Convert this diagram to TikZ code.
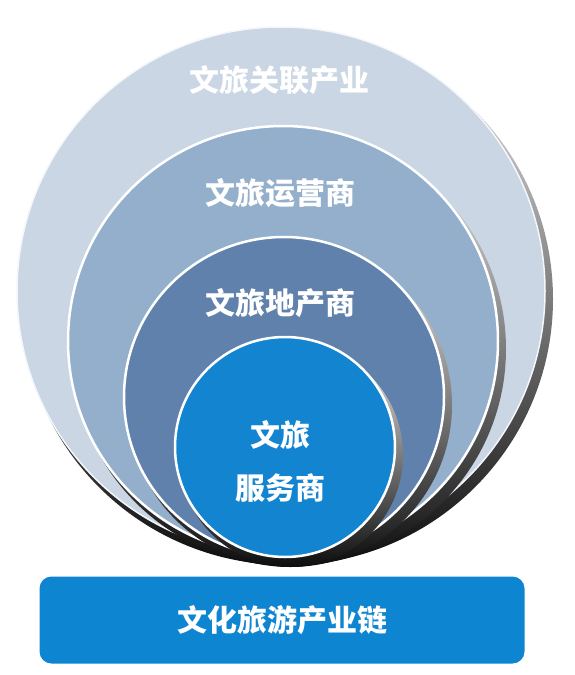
\documentclass[tikz,border=0pt]{standalone}
\usepackage{fontspec}
\newfontfamily\cjk{Noto Sans CJK SC}[BoldFont={Noto Sans CJK SC Black}]
\usepackage{xcolor}

\definecolor{ringA}{HTML}{CAD6E4}
\definecolor{ringB}{HTML}{94AFCB}
\definecolor{ringC}{HTML}{5F81AC}
\definecolor{ringD}{HTML}{1384CF}
\definecolor{chainblue}{HTML}{0E85D0}

\tikzset{
  ring/.style={circle,draw=white,line width=2.5pt,inner sep=0pt},
  ringshade/.style={circle,inner sep=0pt,top color=gray!15,bottom color=black!95},
  ringtext/.style={text=white,font=\cjk\bfseries\fontsize{30}{34}\selectfont}
}

\begin{document}
\begin{tikzpicture}[x=1pt,y=-1pt]
            \useasboundingbox (0,0) rectangle (575,675);
            % outer ring
            \node[ringshade,minimum size=532pt] (outershade) at (287,299){};
            \node[ring,fill=ringA,minimum size=528pt,line width=1.5pt,draw=white!80!ringA] (outer) at (281,291){};
            % second ring
            \node[ringshade,minimum size=434pt] (secondshade) at (289,349){};
            \node[ring,fill=ringB,minimum size=430pt] (second) at (283,341){};
            % third ring
            \node[ringshade,minimum size=324pt] (thirdshade) at (290,405){};
            \node[ring,fill=ringC,minimum size=320pt] (third) at (284,397){};
            % inner ring
            \node[ringshade,minimum size=224pt] (innershade) at (291,455){};
            \node[ring,fill=ringD,minimum size=220pt] (inner) at (285,447){};
            % labels
            \node[ringtext] (outertext) at (279,80){文旅关联产业};
            \node[ringtext] (secondtext) at (280,193){文旅运营商};
            \node[ringtext] (thirdtext) at (280,303){文旅地产商};
            \node[ringtext] (innertop) at (280,435){文旅};
            \node[ringtext] (innerbottom) at (280,488){服务商};
            % chain box
            \node[fill=chainblue,rounded corners=12pt,minimum width=485pt,minimum height=87pt,inner sep=0pt,ringtext] (chain) at (282,620){文化旅游产业链};
        \end{tikzpicture}
\end{document}
